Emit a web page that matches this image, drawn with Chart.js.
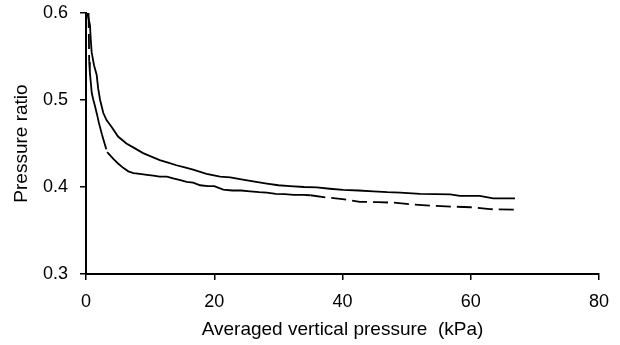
<!DOCTYPE html>
<html>
<head>
<meta charset="utf-8">
<script src="https://cdn.jsdelivr.net/npm/chart.js@4/dist/chart.umd.min.js"></script>
<style>
  html, body { margin: 0; padding: 0; background: #fff; }
  #wrap { width: 620px; height: 345px; }
</style>
</head>
<body>
<div id="wrap"><canvas id="ratioChart" width="620" height="345"></canvas></div>
<script>
// 上曲线 (实线)
const upperX = [0.2, 0.62, 0.73, 0.88, 1.25, 1.66, 1.9, 2.2, 2.4, 2.7, 3.2, 4.0, 5.0, 6.3, 7.5, 8.9, 10.2, 11.5, 12.8, 14.1, 15.4, 16.7, 18.8, 20.9, 22.5, 24.0, 25.6, 28.2, 30.0, 31.8, 34.0, 36.0, 38.0, 40.1, 42.5, 44.8, 47.0, 49.0, 52.1, 56.8, 58.3, 61.4, 63.5, 66.9];
const upperY = [0.600, 0.586, 0.571, 0.555, 0.540, 0.529, 0.513, 0.500, 0.494, 0.485, 0.477, 0.469, 0.458, 0.450, 0.445, 0.439, 0.435, 0.431, 0.428, 0.425, 0.4225, 0.420, 0.415, 0.412, 0.411, 0.409, 0.407, 0.404, 0.402, 0.401, 0.400, 0.3996, 0.398, 0.3966, 0.396, 0.395, 0.394, 0.3935, 0.392, 0.3916, 0.3897, 0.3897, 0.387, 0.387];

// 下曲线 (长段处为虚线)
const lowerX = [0.4, 0.5, 0.6, 0.75, 0.9, 1.15, 1.4, 1.7, 2.0, 2.5, 3.3, 3.8, 4.3, 5.0, 5.8, 6.6, 7.4, 8.4, 9.5, 10.5, 11.5, 12.6, 13.6, 14.7, 15.7, 16.7, 17.8, 19.0, 20.0, 21.4, 22.8, 24.2, 25.6, 27.0, 28.2, 29.6, 31.0, 32.4, 33.8, 35.0, 37.5, 40.0, 42.7, 45.5, 48.0, 51.0, 54.0, 57.0, 60.0, 63.0, 67.1];
const lowerY = [0.600, 0.544, 0.532, 0.520, 0.508, 0.500, 0.493, 0.484, 0.474, 0.460, 0.440, 0.436, 0.432, 0.427, 0.422, 0.418, 0.416, 0.415, 0.414, 0.413, 0.412, 0.412, 0.410, 0.408, 0.406, 0.405, 0.402, 0.401, 0.401, 0.397, 0.396, 0.396, 0.395, 0.394, 0.3935, 0.392, 0.3918, 0.391, 0.391, 0.3905, 0.388, 0.386, 0.383, 0.3825, 0.382, 0.380, 0.3785, 0.3775, 0.3767, 0.3745, 0.374];

const xTicks = [0, 20, 40, 60, 80];
const yTicks = [0.3, 0.4, 0.5, 0.6];

const toPoints = (xs, ys) => xs.map((x, i) => ({ x: x, y: ys[i] }));

const tickFont = { family: 'Liberation Sans, Arial, sans-serif', size: 18 };
const titleFont = { family: 'Liberation Sans, Arial, sans-serif', size: 19 };

// 线段较长时才显示虚线
const longSegmentDash = ctx => {
  const len = Math.hypot(ctx.p1.x - ctx.p0.x, ctx.p1.y - ctx.p0.y);
  return len > 15 ? [15, 6] : undefined;
};

const axisStyle = {
  border: { display: true, color: '#000', width: 2 },
  grid: { drawOnChartArea: false, drawTicks: true, tickLength: 6, color: '#000', lineWidth: 1.5 }
};

new Chart(document.getElementById('ratioChart').getContext('2d'), {
  type: 'line',
  data: {
    datasets: [
      {
        data: toPoints(upperX, upperY),
        borderColor: '#000',
        borderWidth: 1.8,
        pointRadius: 0,
        tension: 0
      },
      {
        data: toPoints(lowerX, lowerY),
        borderColor: '#000',
        borderWidth: 1.8,
        pointRadius: 0,
        tension: 0,
        borderDash: [],
        segment: { borderDash: longSegmentDash }
      }
    ]
  },
  options: {
    responsive: false,
    animation: false,
    layout: { padding: { top: 13, right: 21, left: 0, bottom: 0 } },
    plugins: { legend: { display: false }, tooltip: { enabled: false } },
    scales: {
      x: {
        type: 'linear',
        min: 0,
        max: 80,
        afterBuildTicks: s => { s.ticks = xTicks.map(v => ({ value: v })); },
        afterFit: s => { s.height = 71; s.paddingLeft = 0; s.paddingRight = 0; },
        ticks: { color: '#000', font: tickFont, padding: 11, maxRotation: 0 },
        title: { display: true, text: 'Averaged vertical pressure  (kPa)', color: '#000', font: titleFont, padding: { top: 2, bottom: 4 } },
        ...axisStyle
      },
      y: {
        type: 'linear',
        min: 0.3,
        max: 0.6,
        afterBuildTicks: s => { s.ticks = yTicks.map(v => ({ value: v })); },
        afterFit: s => { s.width = 86; s.paddingTop = 0; s.paddingBottom = 0; },
        ticks: { color: '#000', font: tickFont, padding: 12, callback: v => v.toFixed(1) },
        title: { display: true, text: 'Pressure ratio', color: '#000', font: titleFont, padding: { top: 10, bottom: 2 } },
        ...axisStyle
      }
    }
  }
});
</script>
</body>
</html>
